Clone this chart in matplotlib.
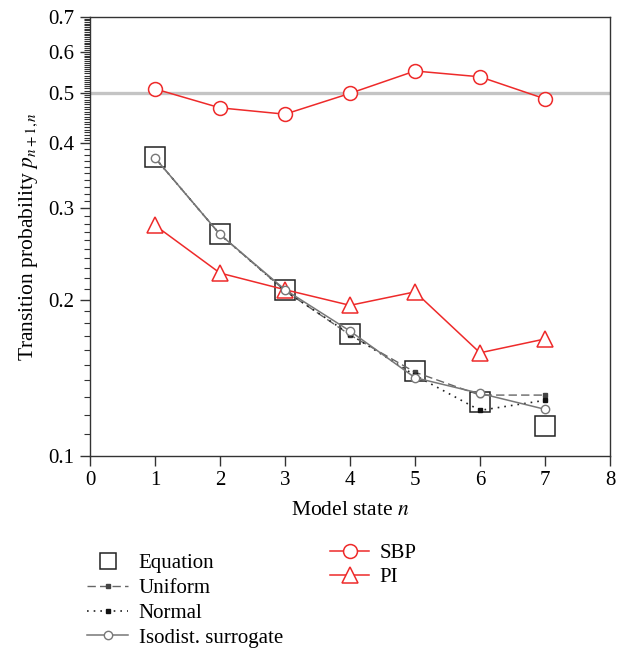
import numpy as np
import matplotlib
matplotlib.use("Agg")
import matplotlib.pyplot as plt
from matplotlib.ticker import FixedLocator, NullFormatter

plt.rcParams['font.family'] = ['Liberation Serif', 'DejaVu Serif']
plt.rcParams['mathtext.fontset'] = 'stix'

# model states
states = [1, 2, 3, 4, 5, 6, 7]

# transition probabilities
equation = [0.376, 0.267, 0.209, 0.172, 0.146, 0.127, 0.114]
uniform = [0.375, 0.267, 0.208, 0.171, 0.145, 0.131, 0.131]
normal = [0.375, 0.267, 0.208, 0.1715, 0.143, 0.1224, 0.128]
isodist = [0.375, 0.267, 0.209, 0.174, 0.1415, 0.132, 0.123]
sbp = [0.509, 0.468, 0.455, 0.499, 0.551, 0.537, 0.487]
pi = [0.278, 0.225, 0.209, 0.195, 0.207, 0.158, 0.168]

y_major = [0.1, 0.2, 0.3, 0.4, 0.5, 0.6, 0.7]
x_ticks = [0, 1, 2, 3, 4, 5, 6, 7, 8]

red = '#ee2a2a'

fig = plt.figure(figsize=(6.26, 6.52), dpi=100)
ax = fig.add_axes([90 / 626, 1 - 456 / 652, 520 / 626, 439 / 652])

ax.axhline(0.5, color='#c4c4c4', lw=2.4, zorder=1)

l_sbp, = ax.plot(states, sbp, color=red, lw=1.1, marker='o', ms=10,
                 mfc='white', mec=red, mew=1.1, zorder=3)
l_pi, = ax.plot(states, pi, color=red, lw=1.1, marker='^', ms=12,
                mfc='white', mec=red, mew=1.1, zorder=3)

l_eq, = ax.plot(states, equation, ls='none', marker='s', ms=15,
                mfc='none', mec='#222222', mew=1.1, zorder=2)
l_uni, = ax.plot(states, uniform, color='#666666', ls=(0, (6, 3)), lw=1.0,
                 marker='s', ms=2.5, mfc='#444444', mec='#444444', zorder=4)
l_norm, = ax.plot(states, normal, color='#222222', ls=(0, (1, 3)), lw=1.2,
                  marker='s', ms=3, mfc='#111111', mec='#111111', zorder=4)
l_iso, = ax.plot(states, isodist, color='#777777', lw=1.1, marker='o', ms=6,
                 mfc='white', mec='#777777', mew=1.0, zorder=5)

ax.set_yscale('log')
ax.set_xlim(0, 8)
ax.set_ylim(0.1, 0.7)
ax.set_xticks(x_ticks)
ax.set_xticklabels([str(t) for t in x_ticks])
ax.yaxis.set_major_locator(FixedLocator(y_major))
ax.set_yticklabels(['%.1f' % v for v in y_major])
minor = list(np.arange(0.11, 0.40, 0.01)) + list(np.arange(0.405, 0.70, 0.005))
ax.yaxis.set_minor_locator(FixedLocator(minor))
ax.yaxis.set_minor_formatter(NullFormatter())

for s in ax.spines.values():
    s.set_color('#333333')
    s.set_linewidth(1.0)
ax.tick_params(axis='both', which='major', direction='out', length=7,
               width=1.0, color='#333333', labelsize=15, pad=4)
ax.tick_params(axis='y', which='minor', direction='out', length=4,
               width=0.8, color='#333333')
ax.tick_params(axis='x', which='minor', length=0)

ax.set_xlabel('Model state $n$', fontsize=15.5, labelpad=8)
ax.set_ylabel('Transition probability $p_{n+1,n}$', fontsize=15.5, labelpad=6)

leg1 = fig.legend([l_eq, l_uni, l_norm, l_iso],
                  ['Equation', 'Uniform', 'Normal', 'Isodist. surrogate'],
                  loc='upper left', bbox_to_anchor=(68 / 626, 1 - 535 / 652),
                  frameon=False, fontsize=15, handlelength=2.0,
                  handletextpad=0.5, labelspacing=0.25)
leg1.legend_handles[0].set_markersize(11)

leg2 = fig.legend([l_sbp, l_pi], ['SBP', 'PI'],
                  loc='upper left', bbox_to_anchor=(311 / 626, 1 - 525 / 652),
                  frameon=False, fontsize=15, handlelength=1.9,
                  handletextpad=0.5, labelspacing=0.2)

fig.savefig('out.png', dpi=100)
